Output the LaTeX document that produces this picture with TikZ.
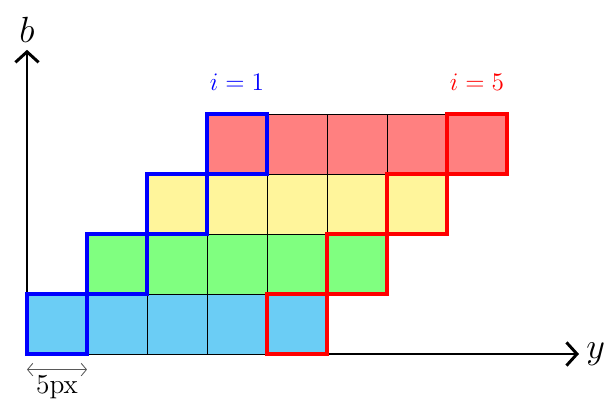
\documentclass[tikz,border=0pt]{standalone}
\usepackage{tikz}
\usetikzlibrary{positioning,arrows.meta}
\definecolor{cellblue}{RGB}{107,205,245}
\definecolor{cellgreen}{RGB}{128,255,128}
\definecolor{cellyellow}{RGB}{255,245,155}
\definecolor{cellred}{RGB}{255,128,128}

\begin{document}
\begin{tikzpicture}[
  cell/.style={draw, line width=0.4pt, minimum size=1cm, inner sep=0pt, outer sep=0pt, anchor=south west},
  window/.style={line width=2pt},
  axis/.style={line width=1.4pt, -{Straight Barb[length=5pt, width=11pt]}}
]
  \useasboundingbox (-0.45,-0.783) rectangle (9.617,5.9);
  % axes
  \coordinate (o) at (0,0);
  \coordinate (btop) at (0,5.07);
  \coordinate (yend) at (9.2,0);
  \draw[axis] (o) -- (btop);
  \draw[axis] (o) -- (yend);
  \node[font=\LARGE, above=0pt of btop] (blabel) {$b$};
  \node[font=\LARGE, right=0pt of yend] (ylabel) {$y$};
  % rows of cells
  \foreach \r/\col in {0/cellblue,1/cellgreen,2/cellyellow,3/cellred}
    \foreach \k in {0,...,4}
      \node[cell, fill=\col] (c-\r-\k) at (\r+\k,\r) {};
  % first and last window
  \foreach \r in {0,...,3} {
    \draw[window, blue] (c-\r-0.south west) rectangle (c-\r-0.north east);
    \draw[window, red] (c-\r-4.south west) rectangle (c-\r-4.north east);
  }
  \node[blue, font=\large, above=2.6mm of c-3-0] (ione) {$i = 1$};
  \node[red, font=\large, above=2.6mm of c-3-4] (ifive) {$i = 5$};
  % cell width
  \coordinate (w0) at (0,-0.26);
  \coordinate (w1) at (1,-0.26);
  \draw[gray!70!black, {Straight Barb[length=2.5pt, width=6pt]}-{Straight Barb[length=2.5pt, width=6pt]}] (w0) -- (w1);
  \node[font=\fontsize{13}{15}\selectfont, anchor=base, inner sep=0pt] (wlabel) at (0.5,-0.655) {5px};
\end{tikzpicture}
\end{document}
